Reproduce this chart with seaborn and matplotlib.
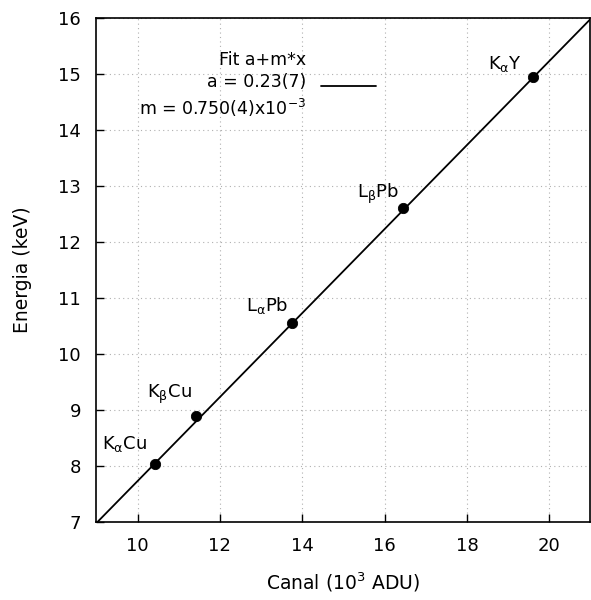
import matplotlib
matplotlib.use("Agg")
import matplotlib.pyplot as plt
import seaborn as sns
import pandas as pd

# measured lines
canal = [10.42, 11.41, 13.75, 16.45, 19.60]      # 10^3 ADU
energia = [8.04, 8.89, 10.55, 12.61, 14.95]      # keV
lineas = [r"K$_\mathregular{\alpha}$Cu", r"K$_\mathregular{\beta}$Cu",
          r"L$_\mathregular{\alpha}$Pb", r"L$_\mathregular{\beta}$Pb",
          r"K$_\mathregular{\alpha}$Y"]

# fitted line endpoints (a + m*x)
fit_x = [9.0, 21.0]
fit_y = [6.98, 15.98]
fit_label = "Fit a+m*x\na = 0.23(7)\nm = 0.750(4)x10$^{-3}$"

df = pd.DataFrame({"canal": canal, "energia": energia, "linea": lineas})
df_fit = pd.DataFrame({"x": fit_x, "y": fit_y})

sns.set_style("ticks")
plt.rcParams["font.family"] = ["DejaVu Sans"]
plt.rcParams["text.color"] = "black"
plt.rcParams["axes.labelcolor"] = "black"
plt.rcParams["xtick.color"] = "black"
plt.rcParams["ytick.color"] = "black"

fig = plt.figure(figsize=(5.91, 6.0), dpi=100)
ax = fig.add_axes([0.163, 0.13, 0.836, 0.84])

sns.lineplot(data=df_fit, x="x", y="y", ax=ax, color="black", lw=1.3, label=fit_label)
sns.scatterplot(data=df, x="canal", y="energia", ax=ax, color="black", s=55,
                edgecolor="black", zorder=3, legend=False)

# label offsets (points) for each line name
offs = [(-22, 14), (-19, 16), (-18, 13), (-18, 10), (-20, 9)]
for (_, r), o in zip(df.iterrows(), offs):
    ax.annotate(r["linea"], (r["canal"], r["energia"]), xytext=o,
                textcoords="offset points", ha="center", va="center", fontsize=13)

ax.set_xlim(9, 21)
ax.set_ylim(7, 16)
ax.set_xticks(range(10, 21, 2))
ax.set_yticks(range(7, 17))
ax.grid(True, color="#b0b0b0", linestyle=(0, (1, 3)), lw=0.8)
ax.tick_params(direction="in", length=6, labelsize=13, width=1, pad=11)
for s in ax.spines.values():
    s.set_linewidth(1.2)
    s.set_color("black")

ax.set_xlabel("Canal (10$^3$ ADU)", fontsize=13.5, labelpad=11)
ax.set_ylabel("Energia (keV)", fontsize=13.5, labelpad=19)

leg = ax.legend(loc="upper left", bbox_to_anchor=(0.055, 0.965), frameon=False,
                markerfirst=False, fontsize=12.5, handlelength=3.2, handletextpad=0.85)
for t in leg.get_texts():
    t.set_multialignment("right")
    t.set_linespacing(1.3)

fig.savefig("out.png", dpi=100)
